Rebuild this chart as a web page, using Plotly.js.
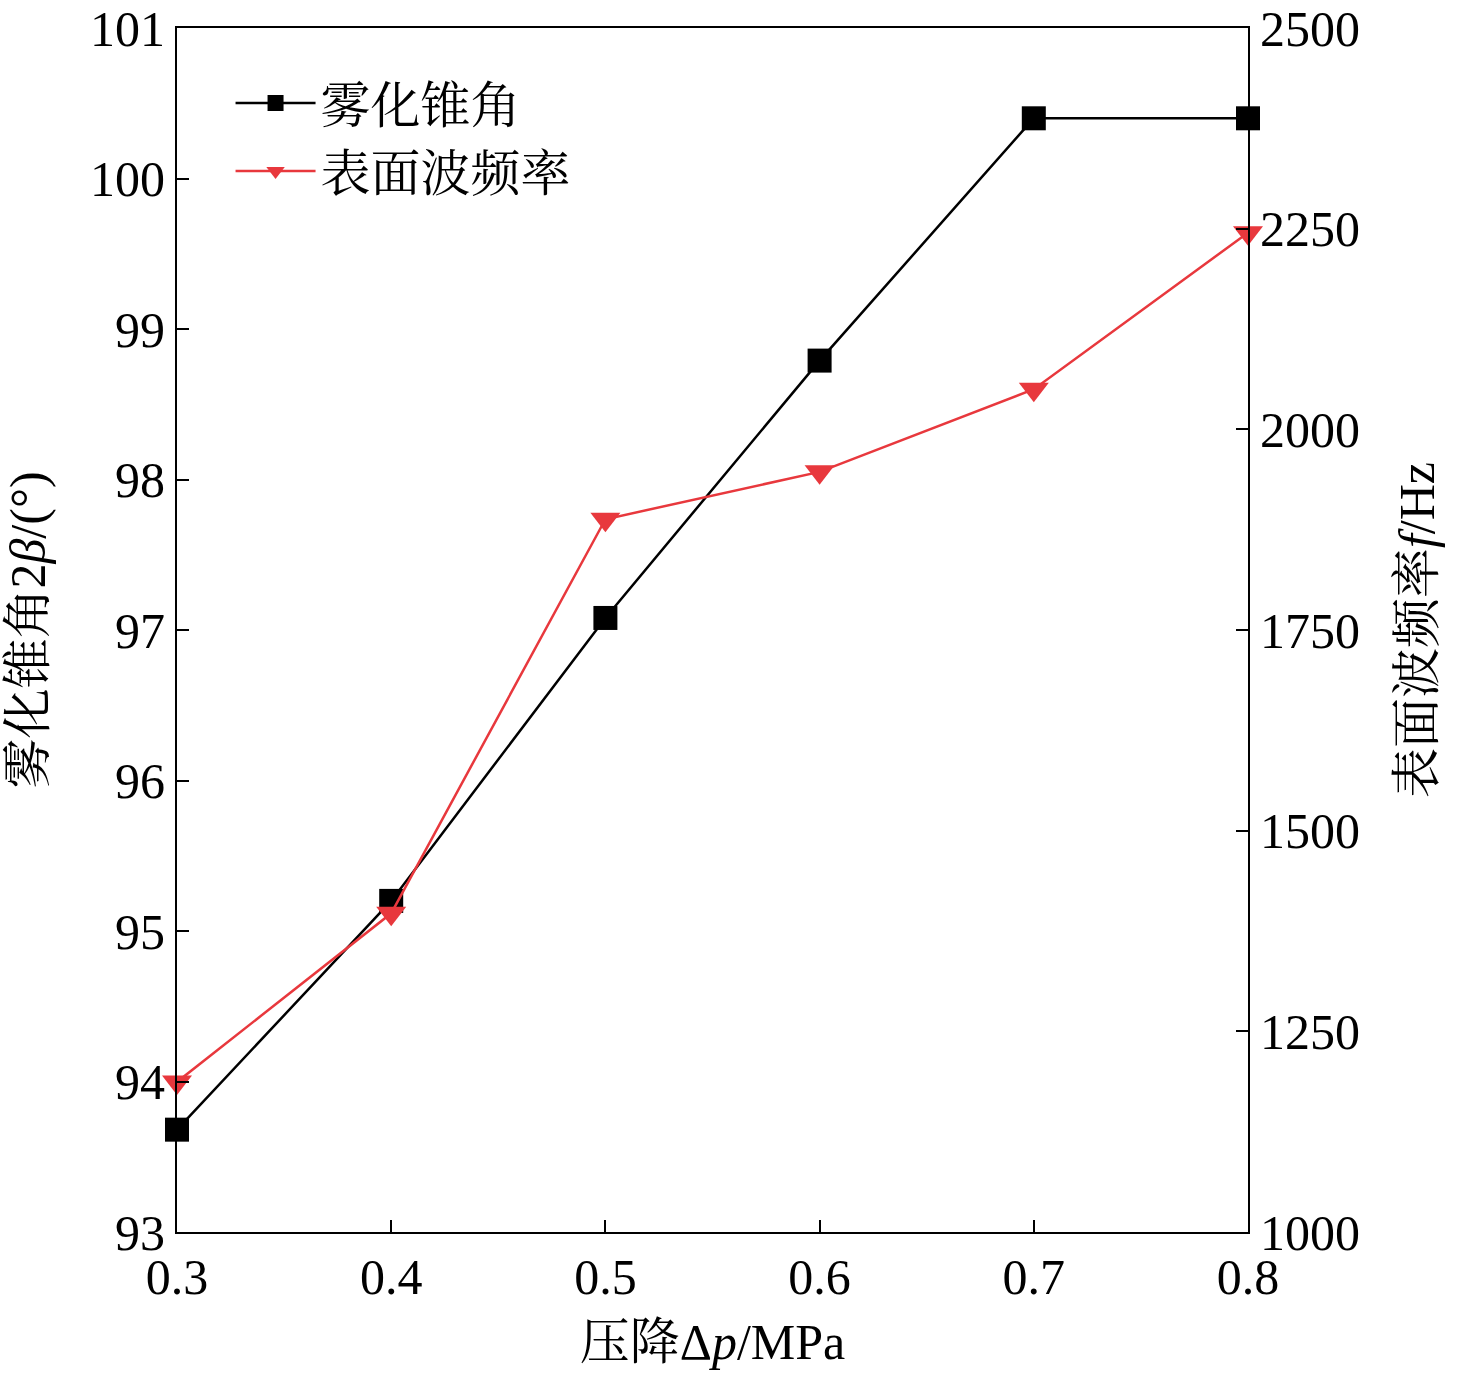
<!DOCTYPE html>
<html>
<head>
<meta charset="utf-8">
<script src="https://cdn.plot.ly/plotly-3.0.1.min.js"></script>
<style>body{margin:0;background:#fff}</style>
</head>
<body>
<div id="plot" style="width:1476px;height:1391px"></div>
<script>
const pressure = [0.3, 0.4, 0.5, 0.6, 0.7, 0.8];
const coneAngle = [93.68, 95.2, 97.08, 98.79, 100.4, 100.4];
const waveFreq = [1187, 1397, 1888, 1947, 2050, 2245];

const fontFam = '"Liberation Serif", "Times New Roman", "Noto Serif CJK SC", "Noto Sans CJK SC", serif';

const traces = [
	{
		x: pressure, y: coneAngle, name: '雾化锥角', mode: 'lines+markers', cliponaxis: false,
		line: {color: '#000', width: 2.5},
		marker: {symbol: 'square', size: 24, color: '#000'}
	},
	{
		x: pressure, y: waveFreq, name: '表面波频率', mode: 'lines+markers', yaxis: 'y2', cliponaxis: false,
		line: {color: '#e8383d', width: 2.5},
		marker: {symbol: 'triangle-down', size: 26, color: '#e8383d'}
	}
];

const axisCommon = {
	showgrid: false, zeroline: false, showline: true, linecolor: '#000', linewidth: 2,
	ticks: 'inside', ticklen: 12, tickwidth: 2, tickcolor: '#000',
	tickfont: {family: fontFam, size: 50, color: '#000'}
};

const layout = {
	width: 1476, height: 1391,
	margin: {l: 177, r: 228, t: 28, b: 159},
	paper_bgcolor: '#fff', plot_bgcolor: '#fff',
	showlegend: true,
	legend: {x: 0.05, y: 0.97, xanchor: 'left', yanchor: 'top', itemwidth: 80,
		font: {family: fontFam, size: 50, color: '#000'}, bgcolor: 'rgba(0,0,0,0)', tracegroupgap: 10},
	xaxis: Object.assign({}, axisCommon, {
		range: [0.3, 0.8], dtick: 0.1, tickformat: '.1f', mirror: true,
		title: {text: '压降Δ<i>p</i>/MPa', font: {family: fontFam, size: 50, color: '#000'}, standoff: 20}
	}),
	yaxis: Object.assign({}, axisCommon, {
		range: [93, 101], dtick: 1,
		title: {text: '雾化锥角2<i>β</i>/(°)', font: {family: fontFam, size: 50, color: '#000'}, standoff: 30}
	}),
	yaxis2: Object.assign({}, axisCommon, {
		range: [1000, 2500], dtick: 250, overlaying: 'y', side: 'right',
		title: {text: '表面波频率<i>f</i>/Hz', font: {family: fontFam, size: 50, color: '#000'}, standoff: 40}
	})
};

Plotly.newPlot('plot', traces, layout, {displayModeBar: false});
</script>
</body>
</html>
